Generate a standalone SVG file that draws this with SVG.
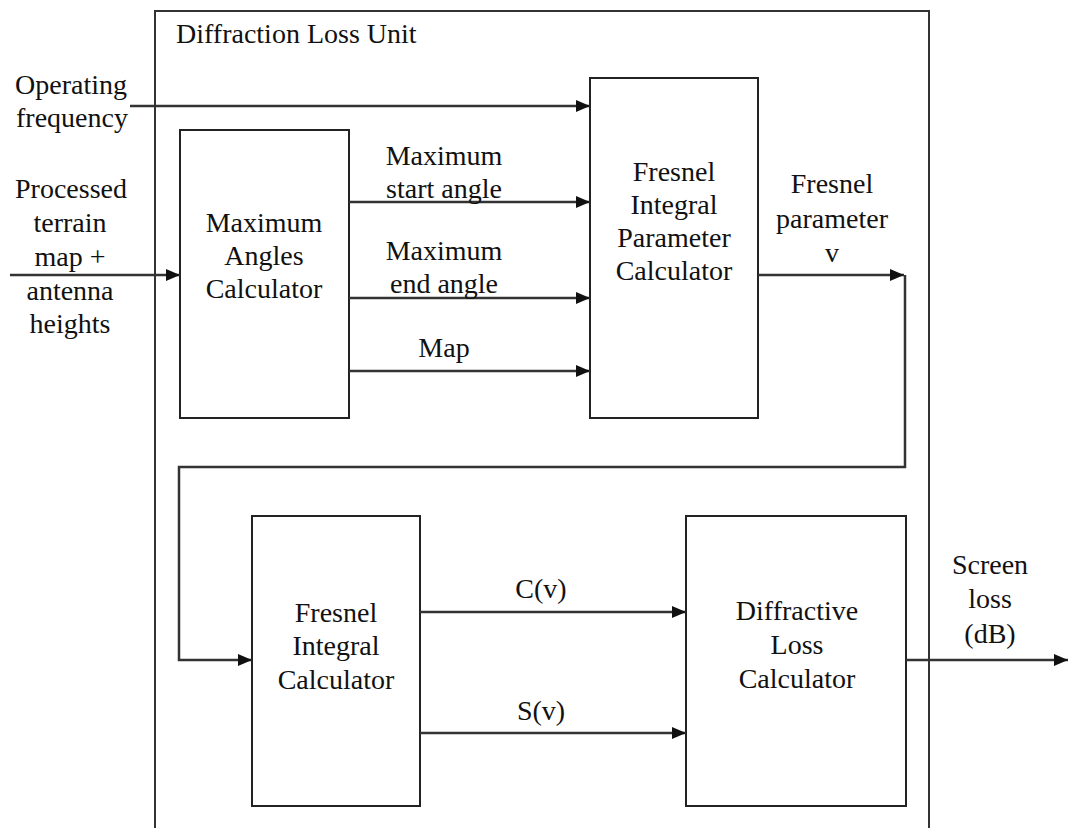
<svg xmlns="http://www.w3.org/2000/svg" width="1071" height="828" viewBox="0 0 1071 828">
<style>
.t{font-family:"Liberation Serif","DejaVu Serif",serif;font-size:28px;fill:#111;text-anchor:middle}
.box{fill:#fff;stroke:#222;stroke-width:2}
.ln{fill:none;stroke:#333;stroke-width:2.5}
</style>
<defs>
<marker id="ah" viewBox="0 0 14 12" refX="14" refY="6" markerWidth="14" markerHeight="12" markerUnits="userSpaceOnUse" orient="auto">
<path d="M0,0 L14,6 L0,12 Z" fill="#111"/>
</marker>
</defs>
<rect width="1071" height="828" fill="#fff"/>
<g id="unit">
<path d="M155,828 V11 H929 V828" fill="none" stroke="#333" stroke-width="2"/>
<text class="t" x="176" y="43" style="text-anchor:start">Diffraction Loss Unit</text>
</g>
<g id="maxangles">
<rect class="box" x="180" y="130" width="169" height="288"/>
<text class="t" x="264" y="232">Maximum</text>
<text class="t" x="264" y="265">Angles</text>
<text class="t" x="264" y="298">Calculator</text>
</g>
<g id="fipc">
<rect class="box" x="590" y="78" width="168" height="340"/>
<text class="t" x="674" y="181">Fresnel</text>
<text class="t" x="674" y="214">Integral</text>
<text class="t" x="674" y="247">Parameter</text>
<text class="t" x="674" y="280">Calculator</text>
</g>
<g id="fic">
<rect class="box" x="252" y="516" width="168" height="290"/>
<text class="t" x="336" y="622">Fresnel</text>
<text class="t" x="336" y="655">Integral</text>
<text class="t" x="336" y="689">Calculator</text>
</g>
<g id="dlc">
<rect class="box" x="686" y="516" width="220" height="290"/>
<text class="t" x="797" y="620">Diffractive</text>
<text class="t" x="797" y="654">Loss</text>
<text class="t" x="797" y="688">Calculator</text>
</g>
<g id="connectors">
<line class="ln" x1="130" y1="106" x2="590" y2="106" marker-end="url(#ah)"/>
<line class="ln" x1="10" y1="275" x2="180" y2="275" marker-end="url(#ah)"/>
<line class="ln" x1="349" y1="202" x2="590" y2="202" marker-end="url(#ah)"/>
<line class="ln" x1="349" y1="298" x2="590" y2="298" marker-end="url(#ah)"/>
<line class="ln" x1="349" y1="371" x2="590" y2="371" marker-end="url(#ah)"/>
<line class="ln" x1="758" y1="275" x2="904" y2="275" marker-end="url(#ah)"/>
<path class="ln" d="M905,275 V467 H179 V660 H252" marker-end="url(#ah)"/>
<line class="ln" x1="420" y1="612" x2="686" y2="612" marker-end="url(#ah)"/>
<line class="ln" x1="420" y1="733" x2="686" y2="733" marker-end="url(#ah)"/>
<line class="ln" x1="906" y1="660" x2="1068" y2="660" marker-end="url(#ah)"/>
</g>
<g id="labels">
<text class="t" x="71" y="94">Operating</text>
<text class="t" x="72" y="127">frequency</text>
<text class="t" x="71" y="198">Processed</text>
<text class="t" x="70" y="232">terrain</text>
<text class="t" x="70" y="266">map +</text>
<text class="t" x="70" y="300">antenna</text>
<text class="t" x="70" y="333">heights</text>
<text class="t" x="444" y="165">Maximum</text>
<text class="t" x="444" y="198">start angle</text>
<text class="t" x="444" y="260">Maximum</text>
<text class="t" x="444" y="293">end angle</text>
<text class="t" x="444" y="357">Map</text>
<text class="t" x="832" y="193">Fresnel</text>
<text class="t" x="832" y="228">parameter</text>
<text class="t" x="832" y="262">v</text>
<text class="t" x="541" y="598">C(v)</text>
<text class="t" x="541" y="720">S(v)</text>
<text class="t" x="990" y="574">Screen</text>
<text class="t" x="990" y="608">loss</text>
<text class="t" x="990" y="643">(dB)</text>
</g>
</svg>
